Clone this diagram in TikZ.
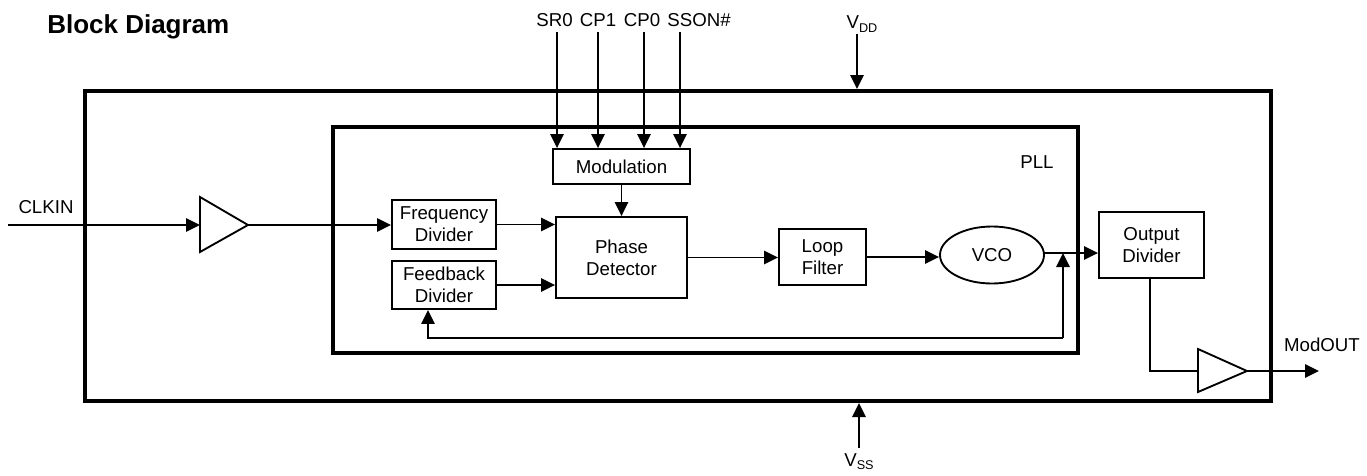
\documentclass[tikz,border=0pt]{standalone}
\usepackage{fontspec}
\setmainfont{Liberation Sans}
\usetikzlibrary{arrows.meta,shapes.geometric}
\begin{document}
\begin{tikzpicture}[x=0.75pt,y=-0.75pt,
  font=\fontsize{14}{16.3}\selectfont,
  box/.style={draw,line width=1.4pt,align=center,inner sep=0pt},
  frame/.style={draw,line width=3pt,inner sep=0pt},
  arr/.style={line width=1.4pt,-{Triangle[length=10.5pt,width=10pt]}},
  wire/.style={line width=1.4pt},
  lbl/.style={anchor=base,inner sep=0pt},
  buf/.style={draw,line width=1.4pt,line join=miter}]
\useasboundingbox (0,0) rectangle (1367,475);

% frames
\node[frame, minimum width=889.5pt, minimum height=232.5pt] (chip) at (678,246) {};
\node[frame, minimum width=558.75pt, minimum height=169.5pt] (pll) at (705.5,240) {};

% title and labels
\node[inner sep=0pt, anchor=base west, font=\fontsize{19.5}{22}\selectfont\bfseries] (title) at (47,33) {Block Diagram};
\node[lbl] (clkinl) at (46,213) {CLKIN};
\node[lbl] (sr0l) at (554.5,26) {SR0};
\node[lbl] (cp1l) at (598,26) {CP1};
\node[lbl] (cp0l) at (642,26) {CP0};
\node[lbl] (ssonl) at (699,26) {SSON\#};
\node[lbl] (vddl) at (862,28) {V\raisebox{-0.25em}{\fontsize{9.5}{10}\selectfont DD}};
\node[lbl] (vssl) at (859,466) {V\raisebox{-0.2em}{\fontsize{9.5}{10}\selectfont SS}};
\node[lbl] (pllname) at (1037,168) {PLL};
\node[lbl] (modoutl) at (1322,351) {ModOUT};

% blocks
\node[box, minimum width=78pt, minimum height=36.75pt] (fd) at (444,224.5) {Frequency\\Divider};
\node[box, minimum width=78pt, minimum height=36pt] (fb) at (444,285) {Feedback\\Divider};
\node[box, minimum width=98.25pt, minimum height=60.75pt] (pd) at (621.5,257.5) {Phase\\Detector};
\node[box, minimum width=102.75pt, minimum height=26.25pt] (mod) at (621.5,166.5) {Modulation};
\node[box, minimum width=65.25pt, minimum height=42pt] (lf) at (822.5,257) {Loop\\Filter};
\node[box, ellipse, minimum width=78pt, minimum height=42.75pt] (vco) at (992,255) {VCO};
\node[box, minimum width=78.75pt, minimum height=49.5pt] (od) at (1151.5,245) {Output\\Divider};

% buffers
\coordinate (b1in) at (200,225);
\coordinate (b1out) at (248,225);
\draw[buf] (200,197) -- (b1out) -- (200,252) -- cycle;
\coordinate (b2in) at (1198,371);
\coordinate (b2out) at (1247,371);
\draw[buf] (1198,349) -- (b2out) -- (1198,392) -- cycle;

% input connectors
\coordinate (clkin) at (8,225);
\draw[arr] (clkin) -- (b1in);
\draw[arr] (b1out) -- (b1out -| fd.west);
\coordinate (sr0) at (557,32);
\coordinate (cp1) at (598,32);
\coordinate (cp0) at (644,32);
\coordinate (sson) at (680,32);
\draw[arr] (sr0) -- (sr0 |- mod.north);
\draw[arr] (cp1) -- (cp1 |- mod.north);
\draw[arr] (cp0) -- (cp0 |- mod.north);
\draw[arr] (sson) -- (sson |- mod.north);
\coordinate (vdd) at (857,34);
\draw[arr] (vdd) -- (vdd |- chip.north);
\coordinate (vss) at (859,448);
\draw[arr] (vss) -- (vss |- chip.south);

% PLL connectors
\draw[arr] (fd.east) -- (fd.east -| pd.west);
\draw[arr] (fb.east) -- (fb.east -| pd.west);
\draw[arr] (mod.south) -- (pd.north);
\draw[arr] (pd.east) -- (pd.east -| lf.west);
\draw[arr] (lf.east) -- (lf.east -| vco.west);
\coordinate (vcoout) at (1044,253);
\draw[arr] (vcoout) -- (vcoout -| od.west);
\coordinate (j) at (1063,253);
\coordinate (fbr) at (1063,338);
\coordinate (fbl) at (428,338);
\draw[arr] (fbr) -- (j);
\draw[arr] (fbr) -- (fbl) -- (fbl |- fb.south);

% output
\coordinate (odout) at (1150,278);
\draw[wire] (odout |- od.south) |- (b2in);
\coordinate (modout) at (1319,371);
\draw[arr] (b2out) -- (modout);
\end{tikzpicture}
\end{document}
